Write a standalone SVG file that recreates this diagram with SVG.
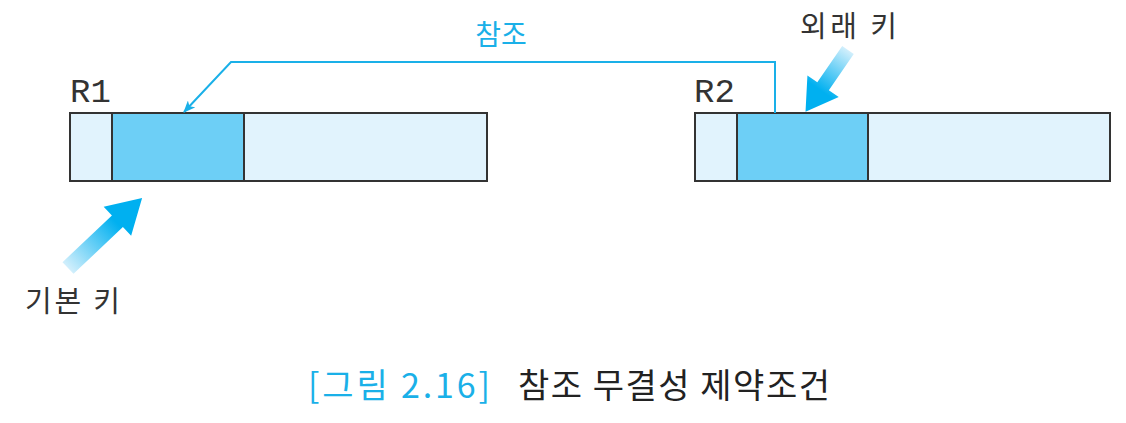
<svg xmlns="http://www.w3.org/2000/svg" width="1126" height="423" viewBox="0 0 1126 423">
<style>
.cell{stroke:#333;stroke-width:2}
.light{fill:#e1f3fd}
.key{fill:#6dcff6}
.lbl{font-family:"Noto Sans CJK KR","Noto Sans",sans-serif;font-size:29px;fill:#333}
.rel{font-family:"Liberation Mono","DejaVu Sans Mono",monospace;font-size:34px;fill:#333}
.conn{fill:none;stroke:#1ab0e8;stroke-width:2}
.cap{font-family:"Noto Sans CJK KR",sans-serif;font-size:34px}
</style>
<defs>
<linearGradient id="g" x1="0" y1="0" x2="1" y2="0">
<stop offset="0" stop-color="#d2effc"/>
<stop offset="0.65" stop-color="#00b0f0"/>
</linearGradient>
<marker id="ah" markerWidth="12" markerHeight="10" refX="11" refY="5" orient="auto" markerUnits="userSpaceOnUse">
<path d="M0,0 L12,5 L0,10 L3,5 Z" fill="#1ab0e8"/>
</marker>
</defs>
<g id="R1">
<text class="rel" x="70" y="102">R1</text>
<rect class="cell light" x="70" y="113" width="417" height="68"/>
<rect class="cell key" x="112" y="113" width="132" height="68"/>
</g>
<g id="R2">
<text class="rel" x="694" y="102">R2</text>
<rect class="cell light" x="695" y="113" width="415" height="68"/>
<rect class="cell key" x="737" y="113" width="131" height="68"/>
</g>
<g id="connectors">
<path class="conn" d="M775,113 V62 H231 L184,112" marker-end="url(#ah)"/>
<text x="501" y="45" text-anchor="middle" style="font-family:'Noto Sans CJK KR',sans-serif;font-size:28px;fill:#1ab0e8">참조</text>
</g>
<g id="pk">
<polygon fill="url(#g)" transform="translate(68,268) rotate(-43.4)" points="0,-8 68,-8 68,-20 102,0 68,20 68,8 0,8"/>
<text class="lbl" x="25" y="312" textLength="95">기본 키</text>
</g>
<g id="fk">
<polygon fill="url(#g)" transform="translate(848,50) rotate(124.5)" points="0,-7 44,-7 44,-19 75,0 44,19 44,7 0,7"/>
<text class="lbl" x="800" y="37" textLength="97">외래 키</text>
</g>
<g id="caption">
<text class="cap" x="308" y="398" textLength="182" fill="#1ab0e8">[그림 2.16]</text>
<text class="cap" x="518" y="398" textLength="312" fill="#222">참조 무결성 제약조건</text>
</g>
</svg>
